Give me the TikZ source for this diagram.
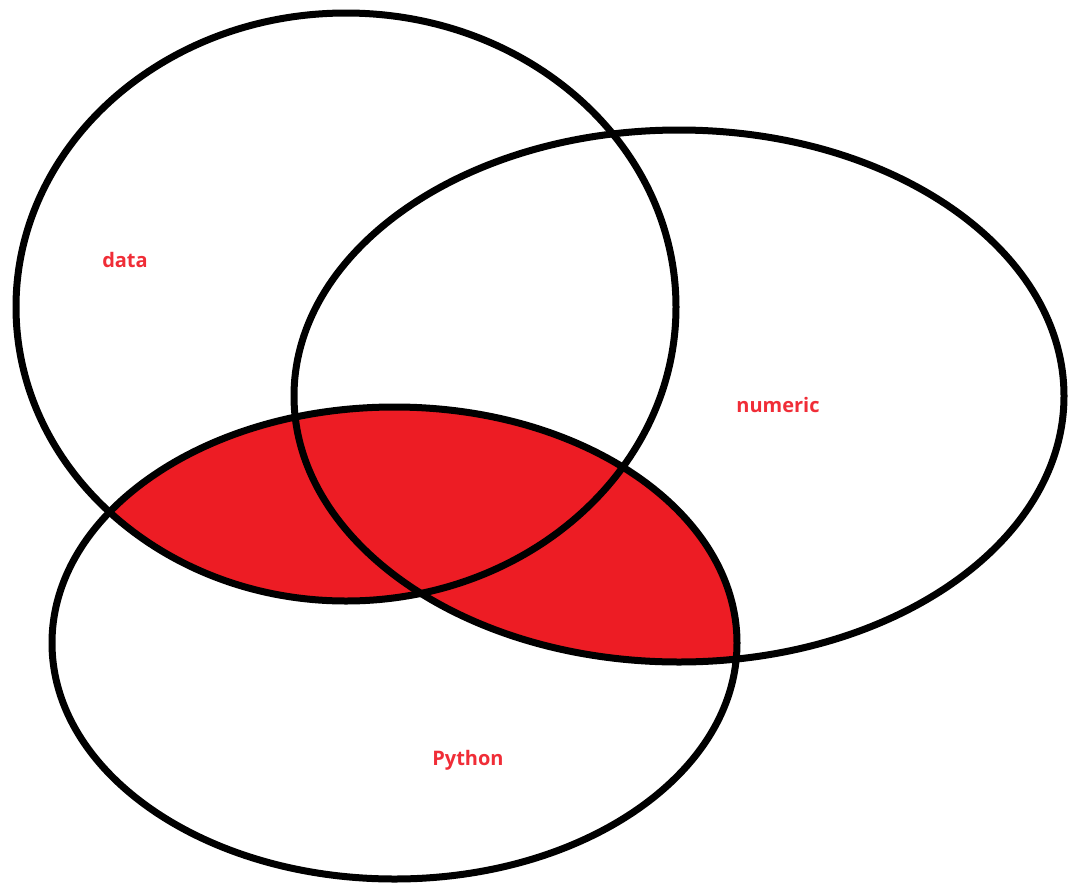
\documentclass[tikz,border=0pt]{standalone}
\usepackage{fontspec}
\setmainfont{Open Sans}
\definecolor{vred}{RGB}{237,28,36}
\definecolor{lred}{RGB}{240,45,55}
\begin{document}
\begin{tikzpicture}[x=1pt,y=-1pt,
  ring/.style={draw=black,line width=7pt},
  lbl/.style={text=lred,font=\bfseries\fontsize{20}{20}\selectfont,anchor=base,inner sep=0pt}]
\useasboundingbox (0,0) rectangle (1069,887);
\begin{scope}
  \clip (394.5,643) ellipse [x radius=342.5, y radius=236];
  \fill[vred] (346,307) ellipse [x radius=330, y radius=294];
  \fill[vred] (679,396) ellipse [x radius=385, y radius=266];
\end{scope}
\draw[ring] (346,307) ellipse [x radius=330, y radius=294];
\draw[ring] (679,396) ellipse [x radius=385, y radius=266];
\draw[ring] (394.5,643) ellipse [x radius=342.5, y radius=236];
\node[lbl] (data) at (125,267) {data};
\node[lbl] (numeric) at (778,412) {numeric};
\node[lbl] (python) at (468,765) {Python};
\end{tikzpicture}
\end{document}
